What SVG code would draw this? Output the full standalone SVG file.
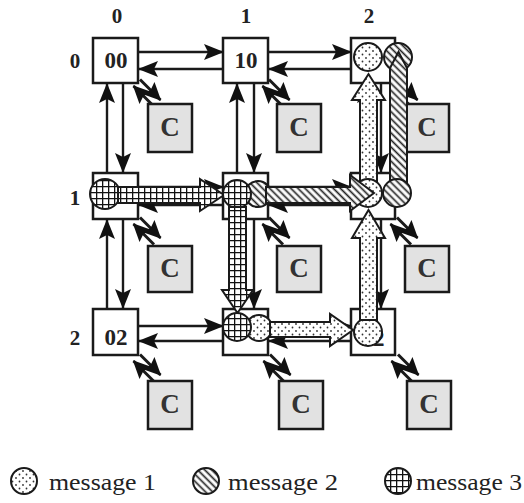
<svg xmlns="http://www.w3.org/2000/svg" width="524" height="503" viewBox="0 0 524 503">
<style>
.router{fill:#fff;stroke:#1a1a1a;stroke-width:2.5}
.core{fill:#e2e2e2;stroke:#1a1a1a;stroke-width:2.5}
.rt{font-family:"Liberation Serif",serif;font-weight:bold;font-size:23px;fill:#222;text-anchor:middle}
.ct{font-family:"Liberation Serif",serif;font-weight:bold;font-size:27px;fill:#333;text-anchor:middle}
.lbl{font-family:"Liberation Serif",serif;font-weight:bold;font-size:21px;fill:#222;text-anchor:middle}
.lg{font-family:"Liberation Serif",serif;font-size:24px;fill:#222}
.ln{stroke:#1a1a1a;stroke-width:2.4;fill:none;marker-end:url(#ah)}
.dg{stroke:#1a1a1a;stroke-width:3;fill:none;marker-end:url(#ahs)}
.msg{stroke:#1a1a1a;stroke-width:2;stroke-linejoin:miter}
.m1{fill:url(#dots)}
.m2{fill:url(#hatch)}
.m3{fill:url(#grid)}
</style>
<defs>
<marker id="ah" markerUnits="userSpaceOnUse" markerWidth="20" markerHeight="16" refX="19" refY="8" orient="auto">
<path d="M0,0 L20,8 L0,16 L4,8 z" fill="#111"/>
</marker>
<marker id="ahs" markerUnits="userSpaceOnUse" markerWidth="18" markerHeight="17" refX="17" refY="8.5" orient="auto">
<path d="M0,0 L18,8.5 L0,17 L3,8.5 z" fill="#111"/>
</marker>
<pattern id="dots" width="7" height="7" patternUnits="userSpaceOnUse">
<rect width="7" height="7" fill="#fff"/>
<circle cx="2" cy="2" r="0.9" fill="#333"/>
<circle cx="5.5" cy="5.5" r="0.9" fill="#333"/>
</pattern>
<pattern id="hatch" width="5" height="5" patternUnits="userSpaceOnUse" patternTransform="rotate(45)">
<rect width="5" height="5" fill="#fff"/>
<line x1="0" y1="2.5" x2="5" y2="2.5" stroke="#222" stroke-width="1.7"/>
</pattern>
<pattern id="grid" width="6" height="6" patternUnits="userSpaceOnUse">
<rect width="6" height="6" fill="#fff"/>
<path d="M0,0.6 H6 M0.6,0 V6" stroke="#111" stroke-width="1.4"/>
</pattern>
</defs>
<rect width="524" height="503" fill="#fff"/>

<g id="labels">
<text class="lbl" x="117" y="23">0</text>
<text class="lbl" x="246" y="23">1</text>
<text class="lbl" x="369" y="23">2</text>
<text class="lbl" x="75" y="68">0</text>
<text class="lbl" x="75" y="205">1</text>
<text class="lbl" x="75" y="345">2</text>
</g>

<g id="r00"><rect class="router" x="93" y="38" width="45" height="45"/><text class="rt" x="116" y="68">00</text></g>
<g id="r10"><rect class="router" x="223" y="38" width="45" height="45"/><text class="rt" x="246" y="68">10</text></g>
<g id="r20"><rect class="router" x="351" y="38" width="44" height="45"/></g>
<g id="r01"><rect class="router" x="93" y="173" width="45" height="46"/></g>
<g id="r11"><rect class="router" x="223" y="173" width="45" height="46"/></g>
<g id="r21"><rect class="router" x="351" y="173" width="44" height="46"/></g>
<g id="r02"><rect class="router" x="93" y="309" width="45" height="46"/><text class="rt" x="116" y="345">02</text></g>
<g id="r12"><rect class="router" x="223" y="309" width="45" height="46"/></g>
<g id="r22"><rect class="router" x="351" y="309" width="44" height="46"/><text class="rt" x="373" y="346">22</text></g>

<g id="connectors">
<line class="ln" x1="138" y1="52" x2="223" y2="52"/>
<line class="ln" x1="223" y1="69" x2="139" y2="69"/>
<line class="ln" x1="268" y1="52" x2="351" y2="52"/>
<line class="ln" x1="351" y1="69" x2="269" y2="69"/>
<line class="ln" x1="138" y1="187" x2="223" y2="187"/>
<line class="ln" x1="223" y1="205" x2="139" y2="205"/>
<line class="ln" x1="268" y1="187" x2="351" y2="187"/>
<line class="ln" x1="351" y1="205" x2="269" y2="205"/>
<line class="ln" x1="138" y1="326" x2="223" y2="326"/>
<line class="ln" x1="223" y1="341" x2="139" y2="341"/>
<line class="ln" x1="268" y1="326" x2="351" y2="326"/>
<line class="ln" x1="351" y1="341" x2="269" y2="341"/>

<line class="ln" x1="107" y1="173" x2="107" y2="84"/>
<line class="ln" x1="123" y1="83" x2="123" y2="172"/>
<line class="ln" x1="107" y1="309" x2="107" y2="220"/>
<line class="ln" x1="123" y1="219" x2="123" y2="308"/>
<line class="ln" x1="237" y1="173" x2="237" y2="84"/>
<line class="ln" x1="254" y1="83" x2="254" y2="172"/>
<line class="ln" x1="237" y1="309" x2="237" y2="220"/>
<line class="ln" x1="254" y1="219" x2="254" y2="308"/>
<line class="ln" x1="365" y1="173" x2="365" y2="84"/>
<line class="ln" x1="381" y1="83" x2="381" y2="172"/>
<line class="ln" x1="365" y1="309" x2="365" y2="220"/>
<line class="ln" x1="381" y1="219" x2="381" y2="308"/>

<g transform="translate(147,93)"><line class="dg" x1="-7" y1="-13.5" x2="13.5" y2="7"/><line class="dg" x1="7" y1="13.5" x2="-13.5" y2="-7"/></g>
<g transform="translate(276,93)"><line class="dg" x1="-7" y1="-13.5" x2="13.5" y2="7"/><line class="dg" x1="7" y1="13.5" x2="-13.5" y2="-7"/></g>
<g transform="translate(404,93)"><line class="dg" x1="-7" y1="-13.5" x2="13.5" y2="7"/><line class="dg" x1="7" y1="13.5" x2="-13.5" y2="-7"/></g>
<g transform="translate(147,231)"><line class="dg" x1="-7" y1="-13.5" x2="13.5" y2="7"/><line class="dg" x1="7" y1="13.5" x2="-13.5" y2="-7"/></g>
<g transform="translate(276,231)"><line class="dg" x1="-7" y1="-13.5" x2="13.5" y2="7"/><line class="dg" x1="7" y1="13.5" x2="-13.5" y2="-7"/></g>
<g transform="translate(404,231)"><line class="dg" x1="-7" y1="-13.5" x2="13.5" y2="7"/><line class="dg" x1="7" y1="13.5" x2="-13.5" y2="-7"/></g>
<g transform="translate(147,368)"><line class="dg" x1="-7" y1="-13.5" x2="13.5" y2="7"/><line class="dg" x1="7" y1="13.5" x2="-13.5" y2="-7"/></g>
<g transform="translate(277,368)"><line class="dg" x1="-7" y1="-13.5" x2="13.5" y2="7"/><line class="dg" x1="7" y1="13.5" x2="-13.5" y2="-7"/></g>
<g transform="translate(405,368)"><line class="dg" x1="-7" y1="-13.5" x2="13.5" y2="7"/><line class="dg" x1="7" y1="13.5" x2="-13.5" y2="-7"/></g>
</g>

<g id="c00"><rect class="core" x="148" y="104" width="44" height="48"/><text class="ct" x="170" y="136">C</text></g>
<g id="c10"><rect class="core" x="277" y="104" width="44" height="48"/><text class="ct" x="299" y="136">C</text></g>
<g id="c20"><rect class="core" x="405" y="104" width="44" height="48"/><text class="ct" x="427" y="136">C</text></g>
<g id="c01"><rect class="core" x="148" y="246" width="44" height="46"/><text class="ct" x="170" y="277">C</text></g>
<g id="c11"><rect class="core" x="277" y="246" width="44" height="46"/><text class="ct" x="299" y="277">C</text></g>
<g id="c21"><rect class="core" x="405" y="246" width="44" height="46"/><text class="ct" x="427" y="277">C</text></g>
<g id="c02"><rect class="core" x="148" y="381" width="44" height="48"/><text class="ct" x="170" y="413">C</text></g>
<g id="c12"><rect class="core" x="279" y="381" width="44" height="48"/><text class="ct" x="301" y="413">C</text></g>
<g id="c22"><rect class="core" x="407" y="381" width="44" height="48"/><text class="ct" x="429" y="413">C</text></g>

<g id="messages">
<circle class="msg m3" cx="105" cy="194" r="15"/>
<polygon class="msg m3" points="118,187 200,187 200,179 224,195 200,211 200,203 118,203"/>
<circle class="msg m2" cx="258" cy="194" r="13"/>
<circle class="msg m3" cx="237" cy="194" r="14"/>
<polygon class="msg m3" points="229,207 246,207 246,290 253,290 237.5,313 222,290 229,290"/>
<circle class="msg m1" cx="259" cy="328" r="13"/>
<circle class="msg m3" cx="237" cy="327" r="14"/>
<polygon class="msg m1" points="270,322 330,322 330,314 353,330 330,346 330,337 270,337"/>
<circle class="msg m1" cx="368" cy="332" r="14"/>
<polygon class="msg m1" points="360,320 360,238 352,238 368.5,210 385,238 377,238 377,320"/>
<circle class="msg m1" cx="368" cy="57" r="14"/>
<polygon class="msg m1" points="360,185 360,100 352,100 368.5,74 385,100 377,100 377,185"/>
<circle class="msg m1" cx="368" cy="193" r="14"/>
<polygon class="msg m2" points="266,187 350,187 350,175 374,193 350,211 350,203 266,203"/>
<circle class="msg m2" cx="398" cy="57" r="14"/>
<polygon class="msg m2" points="390,190 390,68 398.5,52 407,68 407,190"/>
<circle class="msg m2" cx="397" cy="193" r="14"/>
</g>

<g id="legend">
<circle class="msg m1" cx="24" cy="481" r="13"/>
<text class="lg" x="49" y="490" textLength="107" lengthAdjust="spacingAndGlyphs">message 1</text>
<circle class="msg m2" cx="206" cy="481" r="13"/>
<text class="lg" x="228" y="490" textLength="110" lengthAdjust="spacingAndGlyphs">message 2</text>
<circle class="msg m3" cx="398" cy="481" r="13"/>
<text class="lg" x="416" y="490" textLength="106" lengthAdjust="spacingAndGlyphs">message 3</text>
</g>
</svg>
